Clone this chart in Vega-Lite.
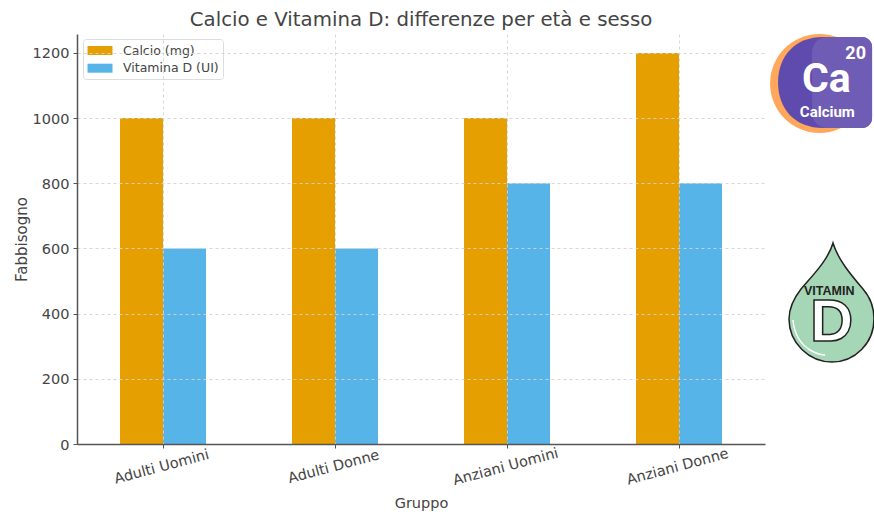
{
  "$schema": "https://vega.github.io/schema/vega-lite/v6.json",
  "width": 688,
  "height": 410,
  "autosize": {"type": "none"},
  "padding": {"left": 77, "top": 34, "right": 109, "bottom": 68},
  "background": "white",
  "title": {"text": "Calcio e Vitamina D: differenze per età e sesso", "font": "DejaVu Sans", "fontSize": 19.75, "fontWeight": "normal", "color": "#444444", "anchor": "middle", "offset": 4},
  "config": {"view": {"stroke": null}, "font": "DejaVu Sans"},
  "datasets": {
    "fabbisogno": [
      {"gruppo": "Adulti Uomini", "nutriente": "Calcio (mg)", "valore": 1000},
      {"gruppo": "Adulti Uomini", "nutriente": "Vitamina D (UI)", "valore": 600},
      {"gruppo": "Adulti Donne", "nutriente": "Calcio (mg)", "valore": 1000},
      {"gruppo": "Adulti Donne", "nutriente": "Vitamina D (UI)", "valore": 600},
      {"gruppo": "Anziani Uomini", "nutriente": "Calcio (mg)", "valore": 1000},
      {"gruppo": "Anziani Uomini", "nutriente": "Vitamina D (UI)", "valore": 800},
      {"gruppo": "Anziani Donne", "nutriente": "Calcio (mg)", "valore": 1200},
      {"gruppo": "Anziani Donne", "nutriente": "Vitamina D (UI)", "valore": 800}
    ],
    "badgeCalcio": [{"lato": 1.0793, "livello": 1106}],
    "badgeGoccia": [{"lato": 1.0974, "livello": 386.6}],
    "testoCa": [{"lato": 1.0892, "livello": 1117, "testo": "Ca"}],
    "testo20": [{"lato": 1.1318, "livello": 1197.6, "testo": "20"}],
    "testoCalcium": [{"lato": 1.0906, "livello": 1019.6, "testo": "Calcium"}],
    "testoVitamin": [{"lato": 1.0934, "livello": 470.4, "testo": "VITAMIN"}],
    "testoD": [{"lato": 1.097, "livello": 370.3, "testo": "D"}]
  },
  "resolve": {"scale": {"x": "independent"}, "axis": {"x": "independent", "y": "independent"}},
  "layer": [
    {
      "data": {"name": "fabbisogno"},
      "mark": {"type": "bar"},
      "encoding": {
        "x": {
          "field": "gruppo", "type": "nominal", "sort": ["Adulti Uomini", "Adulti Donne", "Anziani Uomini", "Anziani Donne"],
          "scale": {"paddingInner": 0.5, "paddingOuter": 0.25},
          "axis": {
            "title": "Gruppo", "titleFontSize": 14.5, "titleFontWeight": "normal", "titleColor": "#444444", "titleFont": "DejaVu Sans", "titlePadding": 9,
            "labelAngle": -15, "labelAlign": "center", "labelBaseline": "top", "labelFontSize": 14.5, "labelColor": "#444444", "labelPadding": 12, "labelOffset": -3,
            "domainColor": "#555555", "domainWidth": 1.5, "tickColor": "#555555", "tickSize": 4,
            "grid": true, "gridColor": "#d2d2d2", "gridDash": [3, 3], "gridWidth": 0.9, "zindex": 1
          }
        },
        "xOffset": {"field": "nutriente", "type": "nominal", "sort": ["Calcio (mg)", "Vitamina D (UI)"]},
        "y": {
          "field": "valore", "type": "quantitative",
          "scale": {"domain": [0, 1258], "nice": false, "zero": false},
          "axis": {
            "title": "Fabbisogno", "titleFontSize": 15, "titleFontWeight": "normal", "titleColor": "#444444", "titleFont": "DejaVu Sans", "titlePadding": 3,
            "values": [0, 200, 400, 600, 800, 1000, 1200], "format": "d", "labelFontSize": 14.5, "labelColor": "#444444", "labelPadding": 4, "labelOffset": 1,
            "domainColor": "#555555", "domainWidth": 1.5, "tickColor": "#555555", "tickSize": 4,
            "grid": true, "gridColor": "#d2d2d2", "gridDash": [3, 3], "gridWidth": 0.9, "zindex": 1
          }
        },
        "color": {
          "field": "nutriente", "type": "nominal",
          "scale": {"domain": ["Calcio (mg)", "Vitamina D (UI)"], "range": ["#E69F00", "#56B4E9"]},
          "legend": {
            "orient": "none", "legendX": 6, "legendY": 5, "title": null,
            "fillColor": "rgba(255,255,255,0.85)", "strokeColor": "#dddddd", "cornerRadius": 3, "padding": 4,
            "labelFont": "DejaVu Sans", "labelFontSize": 12.5, "labelColor": "#444444", "labelOffset": 21,
            "symbolType": "M-0.93,-0.6H2.4V0.6H-0.93Z", "symbolSize": 225, "symbolStrokeWidth": 0, "rowPadding": 3.7
          }
        }
      }
    },
    {
      "data": {"name": "badgeCalcio"},
      "mark": {"type": "point", "filled": true, "opacity": 1, "clip": false, "shape": "M-49.5,0A49.5,49.5 0 1 1 49.5,0A49.5,49.5 0 1 1 -49.5,0Z", "size": 4, "color": "#FFA75A"},
      "encoding": {
        "x": {"field": "lato", "type": "quantitative", "scale": {"domain": [0, 1]}, "axis": null},
        "y": {"field": "livello", "type": "quantitative", "scale": {"domain": [0, 1258], "nice": false, "zero": false}, "axis": null}
      }
    },
    {
      "data": {"name": "badgeCalcio"},
      "mark": {"type": "point", "filled": true, "opacity": 1, "clip": false, "shape": "M3.5,-46.5H42.5A10,10 0 0 1 52.5,-36.5V34.5A10,10 0 0 1 42.5,44.5H3.5C-24,44.5 -41.5,26 -41.5,-1C-41.5,-28 -24,-46.5 3.5,-46.5Z", "size": 4, "color": "#5F4BAE"},
      "encoding": {
        "x": {"field": "lato", "type": "quantitative", "scale": {"domain": [0, 1]}, "axis": null},
        "y": {"field": "livello", "type": "quantitative", "scale": {"domain": [0, 1258], "nice": false, "zero": false}, "axis": null}
      }
    },
    {
      "data": {"name": "badgeCalcio"},
      "mark": {"type": "point", "filled": true, "opacity": 1, "clip": false, "shape": "M7.5,-46.5H42.5A10,10 0 0 1 52.5,-36.5V34.5A10,10 0 0 1 42.5,44.5H7.5A15,15 0 0 1 -7.5,29.5V-31.5A15,15 0 0 1 7.5,-46.5Z", "size": 4, "color": "#6F5CB5"},
      "encoding": {
        "x": {"field": "lato", "type": "quantitative", "scale": {"domain": [0, 1]}, "axis": null},
        "y": {"field": "livello", "type": "quantitative", "scale": {"domain": [0, 1258], "nice": false, "zero": false}, "axis": null}
      }
    },
    {
      "data": {"name": "testoCa"},
      "mark": {"type": "text", "font": "Roboto", "fontWeight": "bold", "fontSize": 41, "color": "white", "align": "center", "baseline": "middle", "clip": false},
      "encoding": {
        "x": {"field": "lato", "type": "quantitative", "scale": {"domain": [0, 1]}, "axis": null},
        "y": {"field": "livello", "type": "quantitative", "scale": {"domain": [0, 1258], "nice": false, "zero": false}, "axis": null},
        "text": {"field": "testo"}
      }
    },
    {
      "data": {"name": "testo20"},
      "mark": {"type": "text", "font": "Roboto", "fontWeight": "bold", "fontSize": 18, "color": "white", "align": "center", "baseline": "middle", "clip": false},
      "encoding": {
        "x": {"field": "lato", "type": "quantitative", "scale": {"domain": [0, 1]}, "axis": null},
        "y": {"field": "livello", "type": "quantitative", "scale": {"domain": [0, 1258], "nice": false, "zero": false}, "axis": null},
        "text": {"field": "testo"}
      }
    },
    {
      "data": {"name": "testoCalcium"},
      "mark": {"type": "text", "font": "Roboto", "fontWeight": "bold", "fontSize": 15, "color": "white", "align": "center", "baseline": "middle", "clip": false},
      "encoding": {
        "x": {"field": "lato", "type": "quantitative", "scale": {"domain": [0, 1]}, "axis": null},
        "y": {"field": "livello", "type": "quantitative", "scale": {"domain": [0, 1258], "nice": false, "zero": false}, "axis": null},
        "text": {"field": "testo"}
      }
    },
    {
      "data": {"name": "badgeGoccia"},
      "mark": {"type": "point", "filled": true, "opacity": 1, "clip": false, "shape": "M1,-75C6,-58 20,-42 31,-29C38,-21 42,-10 42,1C42,25 23,44 0,44C-23,44 -43,25 -43,1C-43,-10 -38,-20 -31,-29C-19,-43 -4,-58 1,-75Z", "size": 4, "fill": "#A5D6B5", "stroke": "#222222", "strokeWidth": 1.5},
      "encoding": {
        "x": {"field": "lato", "type": "quantitative", "scale": {"domain": [0, 1]}, "axis": null},
        "y": {"field": "livello", "type": "quantitative", "scale": {"domain": [0, 1258], "nice": false, "zero": false}, "axis": null}
      }
    },
    {
      "data": {"name": "badgeGoccia"},
      "mark": {"type": "point", "filled": false, "opacity": 1, "clip": false, "shape": "M-39,2C-38,14 -33,25 -22,32C-17,35 -12,37 -7,37", "size": 4, "stroke": "white", "strokeWidth": 1.5},
      "encoding": {
        "x": {"field": "lato", "type": "quantitative", "scale": {"domain": [0, 1]}, "axis": null},
        "y": {"field": "livello", "type": "quantitative", "scale": {"domain": [0, 1258], "nice": false, "zero": false}, "axis": null}
      }
    },
    {
      "data": {"name": "testoVitamin"},
      "mark": {"type": "text", "font": "Liberation Sans", "fontWeight": "bold", "fontSize": 12.5, "color": "#222222", "align": "center", "baseline": "middle", "clip": false},
      "encoding": {
        "x": {"field": "lato", "type": "quantitative", "scale": {"domain": [0, 1]}, "axis": null},
        "y": {"field": "livello", "type": "quantitative", "scale": {"domain": [0, 1258], "nice": false, "zero": false}, "axis": null},
        "text": {"field": "testo"}
      }
    },
    {
      "data": {"name": "testoD"},
      "mark": {"type": "text", "font": "Liberation Sans", "fontWeight": "bold", "fontSize": 60, "fill": "white", "stroke": "#222222", "strokeWidth": 1.5, "align": "center", "baseline": "middle", "clip": false},
      "encoding": {
        "x": {"field": "lato", "type": "quantitative", "scale": {"domain": [0, 1]}, "axis": null},
        "y": {"field": "livello", "type": "quantitative", "scale": {"domain": [0, 1258], "nice": false, "zero": false}, "axis": null},
        "text": {"field": "testo"}
      }
    }
  ]
}
